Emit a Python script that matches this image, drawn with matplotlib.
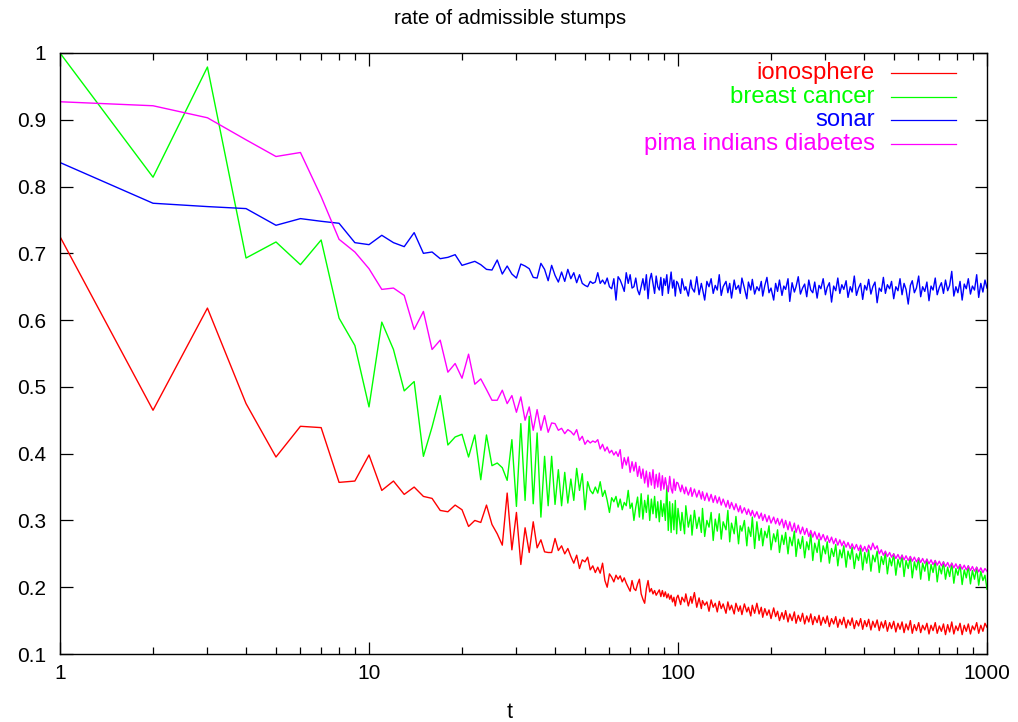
import numpy as np
import matplotlib
matplotlib.use("Agg")
import matplotlib.pyplot as plt

plt.rcParams['font.family'] = ['Liberation Sans', 'DejaVu Sans']

# ---------------------------------------------------------------- data
# boosting rounds: every round up to 99, then a log-spaced subset up to 1000
t_head = np.arange(1, 42)
t_mid = np.arange(42, 100)
t_tail = np.round(np.geomspace(100, 1000, 150)).astype(int)

labels = ["ionosphere", "breast cancer", "sonar", "pima indians diabetes"]
colors = ["#ff0000", "#00ff00", "#0000ff", "#ff00ff"]

ionosphere_head = [
    0.725, 0.465, 0.618, 0.475, 0.395, 0.441, 0.439, 0.357, 0.359, 0.398,
    0.345, 0.359, 0.339, 0.350, 0.336, 0.333, 0.315, 0.313, 0.323, 0.316,
    0.291, 0.300, 0.297, 0.323, 0.294, 0.280, 0.263, 0.341, 0.256, 0.312,
    0.234, 0.289, 0.252, 0.298, 0.259, 0.271, 0.253, 0.252, 0.252, 0.273,
    0.255]
ionosphere_mid = [
    0.262, 0.250, 0.258, 0.246, 0.236, 0.248, 0.228, 0.241, 0.238, 0.245,
    0.226, 0.232, 0.222, 0.230, 0.221, 0.236, 0.210, 0.200, 0.220, 0.215,
    0.208, 0.218, 0.212, 0.217, 0.208, 0.214, 0.206, 0.200, 0.194, 0.210,
    0.198, 0.195, 0.205, 0.212, 0.190, 0.182, 0.176, 0.198, 0.210, 0.193,
    0.198, 0.190, 0.195, 0.188, 0.192, 0.196, 0.186, 0.195, 0.186, 0.193,
    0.184, 0.190, 0.182, 0.188, 0.178, 0.185, 0.172, 0.184]
ionosphere_tail = [
    0.188, 0.174, 0.185, 0.178, 0.190, 0.172, 0.186, 0.176, 0.192, 0.170,
    0.184, 0.168, 0.180, 0.173, 0.178, 0.164, 0.181, 0.170, 0.176, 0.163,
    0.179, 0.168, 0.175, 0.161, 0.178, 0.166, 0.173, 0.160, 0.176, 0.164,
    0.172, 0.159, 0.175, 0.163, 0.170, 0.157, 0.173, 0.161, 0.176, 0.160,
    0.170, 0.155, 0.168, 0.158, 0.166, 0.153, 0.169, 0.156, 0.164, 0.150,
    0.162, 0.152, 0.165, 0.148, 0.160, 0.150, 0.163, 0.146, 0.158, 0.149,
    0.161, 0.145, 0.157, 0.148, 0.160, 0.144, 0.156, 0.147, 0.158, 0.143,
    0.155, 0.146, 0.157, 0.141, 0.153, 0.145, 0.156, 0.140, 0.152, 0.144,
    0.155, 0.139, 0.151, 0.143, 0.154, 0.138, 0.150, 0.142, 0.153, 0.137,
    0.150, 0.141, 0.152, 0.136, 0.149, 0.140, 0.151, 0.135, 0.148, 0.139,
    0.150, 0.134, 0.147, 0.138, 0.149, 0.133, 0.146, 0.137, 0.148, 0.132,
    0.145, 0.136, 0.150, 0.131, 0.144, 0.135, 0.147, 0.132, 0.143, 0.136,
    0.146, 0.130, 0.143, 0.135, 0.147, 0.131, 0.142, 0.134, 0.145, 0.129,
    0.144, 0.133, 0.148, 0.130, 0.142, 0.135, 0.146, 0.129, 0.143, 0.134,
    0.145, 0.130, 0.142, 0.136, 0.147, 0.131, 0.143, 0.134, 0.146, 0.140]

breast_cancer_head = [
    1.000, 0.814, 0.979, 0.693, 0.717, 0.683, 0.720, 0.603, 0.562, 0.470,
    0.597, 0.556, 0.494, 0.508, 0.396, 0.440, 0.487, 0.413, 0.425, 0.429,
    0.395, 0.428, 0.361, 0.428, 0.382, 0.386, 0.379, 0.360, 0.421, 0.321,
    0.445, 0.330, 0.456, 0.325, 0.431, 0.305, 0.396, 0.322, 0.396, 0.324,
    0.376]
breast_cancer_mid = [
    0.322, 0.372, 0.326, 0.362, 0.330, 0.378, 0.345, 0.370, 0.316, 0.358,
    0.345, 0.340, 0.350, 0.341, 0.358, 0.336, 0.345, 0.330, 0.312, 0.334,
    0.328, 0.336, 0.320, 0.332, 0.316, 0.327, 0.322, 0.345, 0.318, 0.326,
    0.300, 0.320, 0.335, 0.305, 0.340, 0.302, 0.330, 0.312, 0.338, 0.300,
    0.332, 0.310, 0.336, 0.304, 0.328, 0.298, 0.330, 0.306, 0.325, 0.300,
    0.352, 0.285, 0.328, 0.282, 0.325, 0.286, 0.330, 0.280]
breast_cancer_tail = [
    0.318, 0.285, 0.312, 0.280, 0.322, 0.290, 0.308, 0.278, 0.315, 0.288,
    0.305, 0.282, 0.318, 0.276, 0.300, 0.290, 0.312, 0.270, 0.302, 0.284,
    0.310, 0.272, 0.298, 0.286, 0.315, 0.268, 0.296, 0.280, 0.306, 0.265,
    0.292, 0.284, 0.300, 0.262, 0.290, 0.276, 0.305, 0.258, 0.298, 0.270,
    0.288, 0.262, 0.284, 0.274, 0.292, 0.256, 0.280, 0.268, 0.286, 0.252,
    0.278, 0.264, 0.282, 0.250, 0.275, 0.262, 0.284, 0.246, 0.272, 0.258,
    0.276, 0.244, 0.268, 0.256, 0.280, 0.240, 0.266, 0.252, 0.272, 0.238,
    0.262, 0.250, 0.268, 0.236, 0.258, 0.246, 0.264, 0.232, 0.256, 0.244,
    0.262, 0.230, 0.254, 0.242, 0.260, 0.228, 0.250, 0.240, 0.258, 0.226,
    0.252, 0.236, 0.256, 0.224, 0.248, 0.238, 0.254, 0.222, 0.246, 0.234,
    0.252, 0.220, 0.244, 0.232, 0.250, 0.218, 0.242, 0.230, 0.248, 0.216,
    0.240, 0.228, 0.246, 0.214, 0.238, 0.226, 0.244, 0.212, 0.236, 0.224,
    0.242, 0.210, 0.234, 0.222, 0.240, 0.208, 0.232, 0.220, 0.238, 0.212,
    0.230, 0.216, 0.236, 0.206, 0.228, 0.218, 0.234, 0.204, 0.226, 0.214,
    0.232, 0.205, 0.225, 0.212, 0.230, 0.203, 0.224, 0.210, 0.218, 0.197]

sonar_head = [
    0.836, 0.775, 0.770, 0.767, 0.742, 0.752, 0.748, 0.745, 0.716, 0.713,
    0.727, 0.716, 0.710, 0.731, 0.700, 0.702, 0.692, 0.694, 0.698, 0.682,
    0.685, 0.688, 0.683, 0.676, 0.675, 0.690, 0.669, 0.681, 0.669, 0.663,
    0.684, 0.681, 0.677, 0.664, 0.663, 0.685, 0.676, 0.659, 0.682, 0.667,
    0.657]
sonar_mid = [
    0.672, 0.658, 0.676, 0.662, 0.671, 0.656, 0.668, 0.655, 0.652, 0.650,
    0.658, 0.655, 0.657, 0.671, 0.655, 0.660, 0.654, 0.663, 0.650, 0.647,
    0.662, 0.630, 0.665, 0.660, 0.652, 0.643, 0.671, 0.655, 0.668, 0.648,
    0.650, 0.663, 0.645, 0.638, 0.650, 0.662, 0.645, 0.668, 0.632, 0.660,
    0.670, 0.655, 0.640, 0.666, 0.650, 0.645, 0.664, 0.637, 0.662, 0.652,
    0.668, 0.640, 0.655, 0.672, 0.648, 0.660, 0.636, 0.658]
sonar_tail = [
    0.655, 0.640, 0.662, 0.645, 0.650, 0.636, 0.660, 0.648, 0.642, 0.665,
    0.638, 0.655, 0.647, 0.630, 0.658, 0.650, 0.662, 0.640, 0.652, 0.645,
    0.668, 0.637, 0.650, 0.658, 0.641, 0.655, 0.633, 0.660, 0.646, 0.652,
    0.640, 0.663, 0.648, 0.632, 0.657, 0.645, 0.661, 0.639, 0.650, 0.644,
    0.658, 0.636, 0.652, 0.664, 0.641, 0.648, 0.630, 0.655, 0.643, 0.660,
    0.637, 0.651, 0.646, 0.662, 0.628, 0.656, 0.642, 0.650, 0.665, 0.639,
    0.648, 0.654, 0.635, 0.660, 0.645, 0.641, 0.657, 0.633, 0.652, 0.647,
    0.662, 0.638, 0.649, 0.656, 0.627, 0.651, 0.644, 0.663, 0.640, 0.653,
    0.646, 0.659, 0.634, 0.650, 0.642, 0.666, 0.637, 0.648, 0.655, 0.631,
    0.652, 0.645, 0.661, 0.639, 0.650, 0.657, 0.626, 0.648, 0.643, 0.664,
    0.640, 0.653, 0.647, 0.658, 0.632, 0.650, 0.644, 0.662, 0.638, 0.655,
    0.646, 0.624, 0.652, 0.659, 0.641, 0.648, 0.666, 0.635, 0.650, 0.643,
    0.657, 0.629, 0.651, 0.645, 0.663, 0.638, 0.649, 0.656, 0.640, 0.660,
    0.644, 0.652, 0.673, 0.636, 0.650, 0.641, 0.658, 0.630, 0.654, 0.647,
    0.662, 0.639, 0.651, 0.645, 0.668, 0.634, 0.655, 0.642, 0.660, 0.648]

pima_head = [
    0.927, 0.921, 0.903, 0.870, 0.845, 0.851, 0.785, 0.721, 0.702, 0.677,
    0.646, 0.648, 0.637, 0.586, 0.613, 0.556, 0.570, 0.522, 0.535, 0.513,
    0.549, 0.504, 0.512, 0.496, 0.480, 0.480, 0.495, 0.475, 0.487, 0.462,
    0.485, 0.450, 0.470, 0.435, 0.466, 0.435, 0.457, 0.432, 0.446, 0.445,
    0.435]
pima_mid = [
    0.438, 0.430, 0.436, 0.433, 0.428, 0.436, 0.420, 0.426, 0.414, 0.420,
    0.416, 0.419, 0.417, 0.421, 0.407, 0.414, 0.404, 0.410, 0.401, 0.405,
    0.398, 0.403, 0.396, 0.406, 0.378, 0.394, 0.383, 0.395, 0.372, 0.388,
    0.374, 0.387, 0.366, 0.381, 0.363, 0.377, 0.356, 0.374, 0.350, 0.372,
    0.353, 0.376, 0.348, 0.369, 0.350, 0.371, 0.345, 0.367, 0.347, 0.364,
    0.350, 0.343, 0.366, 0.348, 0.341, 0.362, 0.345, 0.357]
pima_tail = [
    0.356, 0.343, 0.353, 0.340, 0.350, 0.338, 0.349, 0.336, 0.347, 0.335,
    0.345, 0.332, 0.343, 0.330, 0.341, 0.329, 0.339, 0.327, 0.337, 0.326,
    0.335, 0.323, 0.332, 0.320, 0.330, 0.318, 0.327, 0.316, 0.325, 0.313,
    0.322, 0.311, 0.319, 0.309, 0.317, 0.307, 0.315, 0.305, 0.313, 0.303,
    0.311, 0.300, 0.309, 0.298, 0.307, 0.296, 0.305, 0.295, 0.303, 0.293,
    0.302, 0.289, 0.300, 0.286, 0.298, 0.284, 0.296, 0.282, 0.293, 0.280,
    0.290, 0.279, 0.288, 0.276, 0.285, 0.275, 0.283, 0.272, 0.281, 0.271,
    0.279, 0.269, 0.277, 0.267, 0.275, 0.265, 0.273, 0.263, 0.271, 0.262,
    0.269, 0.260, 0.267, 0.258, 0.265, 0.257, 0.264, 0.255, 0.263, 0.254,
    0.261, 0.253, 0.263, 0.256, 0.266, 0.257, 0.262, 0.250, 0.256, 0.248,
    0.254, 0.246, 0.252, 0.245, 0.250, 0.243, 0.249, 0.242, 0.248, 0.241,
    0.247, 0.240, 0.246, 0.239, 0.245, 0.238, 0.244, 0.237, 0.243, 0.236,
    0.242, 0.235, 0.241, 0.234, 0.240, 0.233, 0.239, 0.232, 0.238, 0.231,
    0.237, 0.230, 0.236, 0.229, 0.235, 0.228, 0.234, 0.227, 0.233, 0.226,
    0.232, 0.225, 0.231, 0.224, 0.230, 0.223, 0.229, 0.222, 0.228, 0.224]

x_ticks = [1, 10, 100, 1000]
x_tick_labels = ["1", "10", "100", "1000"]
y_ticks = [0.1, 0.2, 0.3, 0.4, 0.5, 0.6, 0.7, 0.8, 0.9, 1.0]
y_tick_labels = ["0.1", "0.2", "0.3", "0.4", "0.5", "0.6", "0.7", "0.8", "0.9", "1"]

# ---------------------------------------------------------------- figure
W, H = 1018, 722
fig = plt.figure(figsize=(W / 100, H / 100), dpi=100)
ax = fig.add_axes([60 / W, (H - 654) / H, 927 / W, 601 / H])

t_all = np.concatenate([t_head, t_mid, t_tail])
curves = [
    (ionosphere_head, ionosphere_mid, ionosphere_tail),
    (breast_cancer_head, breast_cancer_mid, breast_cancer_tail),
    (sonar_head, sonar_mid, sonar_tail),
    (pima_head, pima_mid, pima_tail),
]
for (head, mid, tail), color in zip(curves, colors):
    rate = np.concatenate([head, mid, tail])
    ax.plot(t_all, rate, color=color, lw=1.0)

ax.set_xscale("log")
ax.set_xlim(1, 1000)
ax.set_ylim(0.1, 1.0)
ax.set_xticks(x_ticks)
ax.set_xticklabels(x_tick_labels)
ax.set_yticks(y_ticks)
ax.set_yticklabels(y_tick_labels)
ax.tick_params(which="both", direction="in", top=True, right=True,
               labelsize=15, color="black", width=0.9)
ax.tick_params(which="major", length=9)
ax.tick_params(which="minor", length=5)
ax.tick_params(axis="x", which="major", pad=7)
ax.tick_params(axis="y", which="major", pad=10)
for sp in ax.spines.values():
    sp.set_linewidth(1.0)
    sp.set_color("black")

# gnuplot-style key: right-aligned label followed by a line sample
for k, (lab, col) in enumerate(zip(labels, colors)):
    yk = 0.967 - k * 0.0394
    ax.text(0.879, yk, lab, color=col, fontsize=17.2, ha="right", va="center",
            transform=ax.transAxes)
    ax.plot([0.896, 0.967], [yk, yk], color=col, lw=0.9,
            transform=ax.transAxes)

fig.text(510 / W, 1 - 18 / H, "rate of admissible stumps", ha="center",
         va="center", fontsize=14.8)
fig.text(510 / W, 1 - 712 / H, "t", ha="center", va="center", fontsize=15.5)

fig.savefig("out.png", dpi=100)
